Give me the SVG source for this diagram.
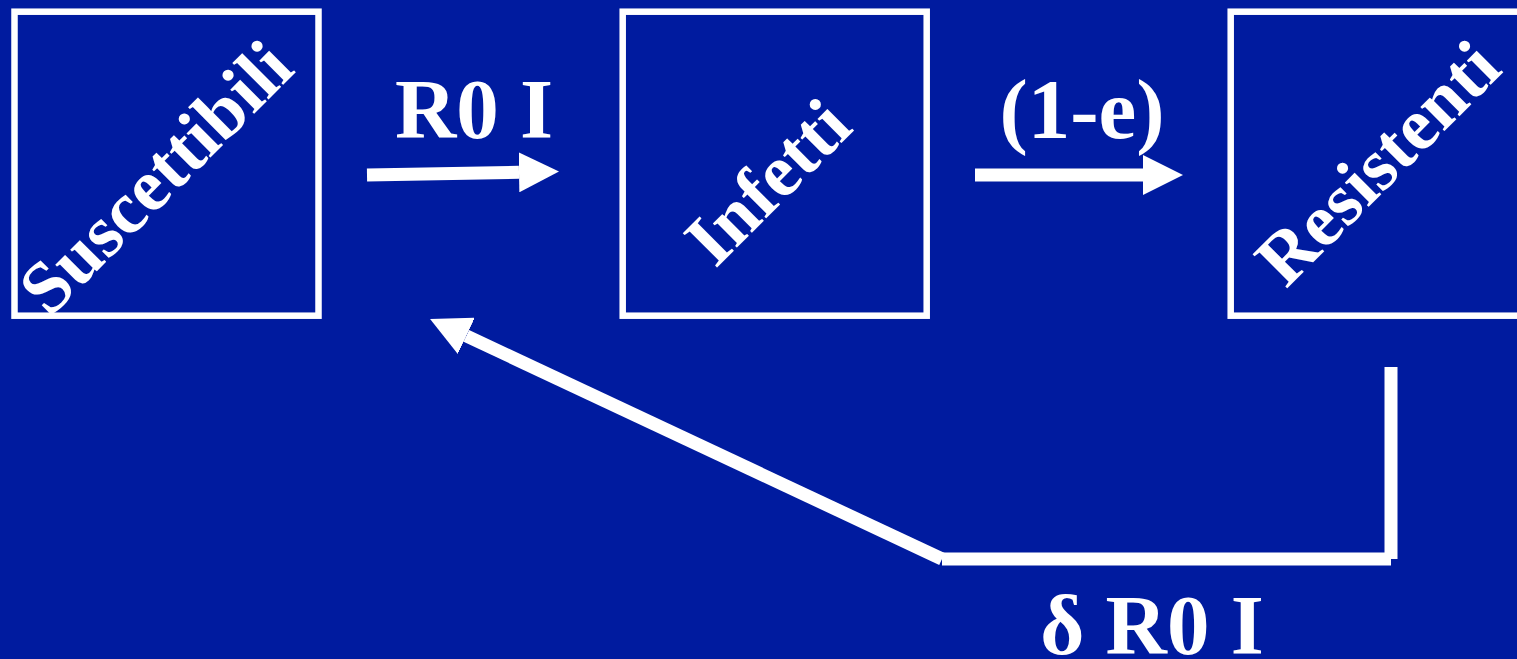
<svg xmlns="http://www.w3.org/2000/svg" width="1517" height="659" viewBox="0 0 1517 659">
  <style>
    .box { fill: none; stroke: #ffffff; stroke-width: 6.5; }
    .node-text { font-family: "Liberation Serif", "Times New Roman", serif; font-weight: bold; font-size: 74px; fill: #ffffff; text-anchor: middle; }
    .label { font-family: "Liberation Serif", "Times New Roman", serif; font-weight: bold; font-size: 85px; fill: #ffffff; text-anchor: middle; }
    .conn { fill: none; stroke: #ffffff; stroke-width: 13; stroke-linecap: butt; }
  </style>
  <defs>
    <marker id="head" markerUnits="userSpaceOnUse" markerWidth="40" markerHeight="40" viewBox="0 0 39 39" refX="0" refY="19.5" orient="auto">
      <path d="M0,0 L39,19.5 L0,39 Z" fill="#ffffff"/>
    </marker>
  </defs>
  <rect x="0" y="0" width="1517" height="659" fill="#001b9f"/>

  <g id="node-suscettibili">
    <rect class="box" x="14.5" y="11.7" width="304" height="304"/>
    <text class="node-text" transform="translate(173,195) rotate(-45)" x="0" y="0">Suscettibili</text>
  </g>

  <g id="node-infetti">
    <rect class="box" x="622.7" y="11.7" width="304" height="304"/>
    <text class="node-text" transform="translate(785,199.5) rotate(-45)" x="0" y="0">Infetti</text>
  </g>

  <g id="node-resistenti">
    <rect class="box" x="1230.7" y="11.7" width="304" height="304"/>
    <text class="node-text" transform="translate(1395,180.5) rotate(-45)" x="0" y="0">Resistenti</text>
  </g>

  <g id="connectors">
    <line class="conn" x1="367" y1="175" x2="519" y2="172.3" marker-end="url(#head)"/>
    <line class="conn" x1="975" y1="175" x2="1143" y2="175" marker-end="url(#head)"/>
    <line class="conn" x1="1391" y1="367" x2="1391" y2="559"/>
    <line class="conn" x1="942" y1="559" x2="1391" y2="559"/>
    <line class="conn" x1="942" y1="559" x2="466.3" y2="335.9" marker-end="url(#head)"/>
  </g>

  <g id="labels">
    <text class="label" x="474" y="138">R0 I</text>
    <text class="label" x="1082" y="138">(1-e)</text>
    <text class="label" x="1152" y="654">δ R0 I</text>
  </g>
</svg>
